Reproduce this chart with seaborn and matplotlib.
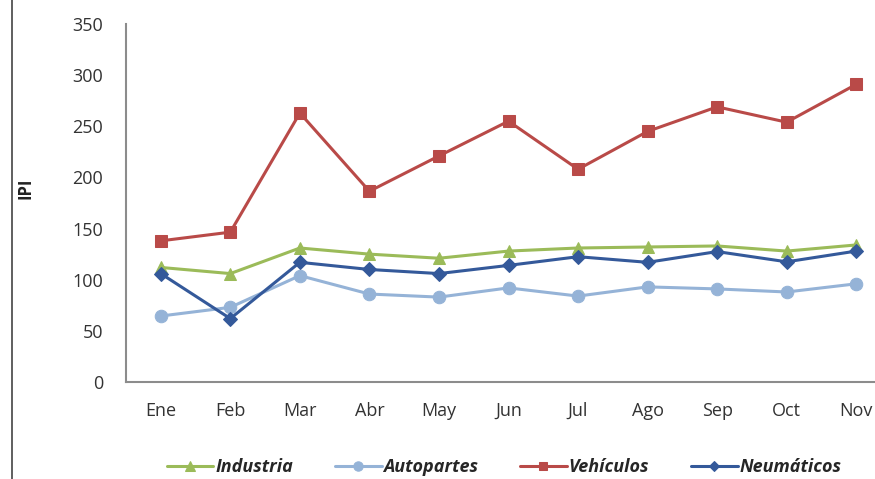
import matplotlib
matplotlib.use("Agg")
import matplotlib.pyplot as plt
import seaborn as sns
import pandas as pd
from matplotlib.lines import Line2D

months = ["Ene", "Feb", "Mar", "Abr", "May", "Jun", "Jul", "Ago", "Sep", "Oct", "Nov"]
industria = [112, 106, 131, 125, 121, 128, 131, 132, 133, 128, 134]
autopartes = [64.5, 73, 104, 86, 83, 92, 84, 93, 91, 88, 96]
vehiculos = [138, 146.5, 263, 186.5, 221, 255, 208, 245, 269, 254, 291]
neumaticos = [106, 62, 117, 110, 106, 114, 122.5, 117, 127.5, 117.5, 128]
series_names = ["Industria", "Autopartes", "Vehículos", "Neumáticos"]
yticks = [0, 50, 100, 150, 200, 250, 300, 350]

colors = ["#9BBB59", "#95B3D7", "#B94A48", "#34599A"]
markers = ["^", "o", "s", "D"]
msizes = [9, 9, 8.5, 7]

sns.set_theme(style="white")
plt.rcParams["font.family"] = ["Open Sans", "DejaVu Sans"]

fig = plt.figure(figsize=(8.75, 4.79), dpi=100)
ax = fig.add_axes([126 / 875, 97 / 479, (891 - 126) / 875, 358 / 479])

data = [industria, autopartes, vehiculos, neumaticos]
for name, vals, c, m, ms in zip(series_names, data, colors, markers, msizes):
    df = pd.DataFrame({"Mes": months, "IPI": vals})
    sns.lineplot(data=df, x="Mes", y="IPI", ax=ax, color=c, marker=m,
                 markersize=ms, markeredgecolor=c, linewidth=2.2, label=name)

ax.set_xlim(-0.5, 10.5)
ax.set_ylim(0, 350)
ax.set_yticks(yticks)
ax.set_xlabel("")
ax.set_ylabel("IPI", fontsize=12, fontweight="bold", color="#222222")
ax.yaxis.set_label_coords((35 - 126) / 765, (382 - 188) / 358)
ax.tick_params(axis="y", length=0, pad=16.5, labelsize=13, labelcolor="#333333")
ax.tick_params(axis="x", length=0, pad=14.5, labelsize=13, labelcolor="#333333")
for s in ["top", "right"]:
    ax.spines[s].set_visible(False)
for s in ["left", "bottom"]:
    ax.spines[s].set_color("#8c8c8c")
    ax.spines[s].set_linewidth(1.5)

leg = ax.legend(loc="center", ncol=4,
                frameon=False, handlelength=2.6, columnspacing=2.3,
                handletextpad=0.1, markerscale=0.75,
                prop={"style": "italic", "weight": "bold", "size": 13})
leg.set_bbox_to_anchor((504 / 875, 12 / 479), transform=fig.transFigure)

fig.add_artist(Line2D([12 / 875, 12 / 875], [0, 1], transform=fig.transFigure,
                      color="#444444", linewidth=1.2))

fig.savefig("out.png", dpi=100)
